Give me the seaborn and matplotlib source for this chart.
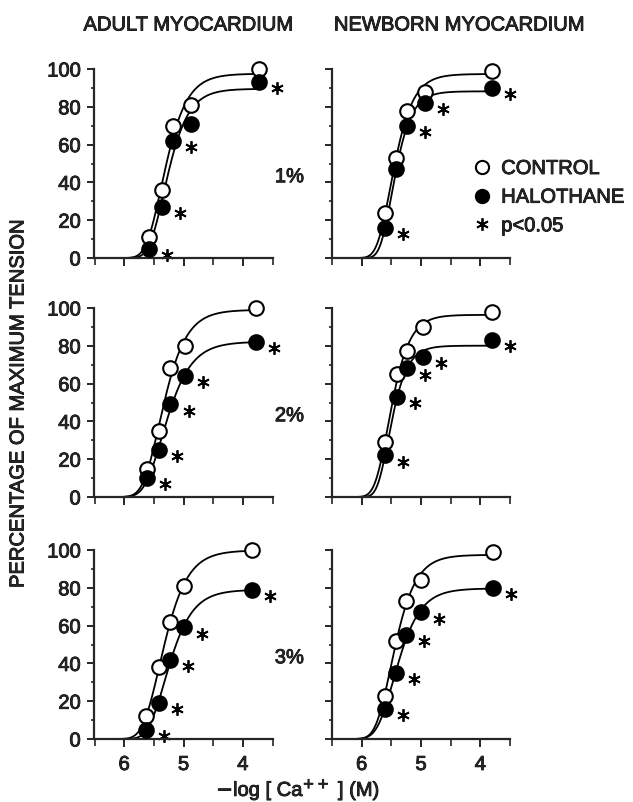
import numpy as np
import matplotlib
matplotlib.use("Agg")
import matplotlib.pyplot as plt
import matplotlib.transforms as mtransforms
import matplotlib.patheffects as pe
from matplotlib.lines import Line2D
from matplotlib.ticker import MultipleLocator
import pandas as pd
import seaborn as sns

# --- data: -log[Ca++] and % of maximum tension ---
adult_1_x = [5.58, 5.37, 5.17, 4.87, 3.73]
adult_1_control = [11, 36, 70, 81, 100]
adult_1_halothane = [5, 27, 62, 71, 93]
adult_1_sig = [1, 1, 1, 0, 1]

newborn_1_x = [5.60, 5.42, 5.23, 4.94, 3.81]
newborn_1_control = [24, 53, 78, 88, 99]
newborn_1_halothane = [16, 47, 70, 82, 90]
newborn_1_sig = [1, 0, 1, 1, 1]

adult_2_x = [5.61, 5.41, 5.22, 4.97, 3.78]
adult_2_control = [15, 35, 68, 80, 100]
adult_2_halothane = [10, 25, 49, 64, 82]
adult_2_sig = [1, 1, 1, 1, 1]

newborn_2_x = [5.60, 5.41, 5.23, 4.97, 3.81]
newborn_2_control = [29, 65, 77, 90, 98]
newborn_2_halothane = [22, 53, 68, 74, 83]
newborn_2_sig = [1, 1, 1, 1, 1]

adult_3_x = [5.63, 5.41, 5.23, 4.99, 3.85]
adult_3_control = [12, 38, 62, 81, 100]
adult_3_halothane = [5, 19, 42, 59, 79]
adult_3_sig = [1, 1, 1, 1, 1]

newborn_3_x = [5.61, 5.42, 5.25, 5.00, 3.79]
newborn_3_control = [23, 52, 73, 84, 99]
newborn_3_halothane = [16, 35, 55, 67, 80]
newborn_3_sig = [1, 1, 1, 1, 1]

doses = ["1%", "2%", "3%"]
col_titles = ["ADULT MYOCARDIUM", "NEWBORN MYOCARDIUM"]

panels = [
    [(adult_1_x, adult_1_control, adult_1_halothane, adult_1_sig),
     (newborn_1_x, newborn_1_control, newborn_1_halothane, newborn_1_sig)],
    [(adult_2_x, adult_2_control, adult_2_halothane, adult_2_sig),
     (newborn_2_x, newborn_2_control, newborn_2_halothane, newborn_2_sig)],
    [(adult_3_x, adult_3_control, adult_3_halothane, adult_3_sig),
     (newborn_3_x, newborn_3_control, newborn_3_halothane, newborn_3_sig)],
]


def sigmoid(xs, x50, n, s):
    # asymmetric (Richards type) dose-response shape, 0..1
    return (1.0 / (1.0 + 10 ** (n * (xs - x50)))) ** s


def fit_curve(x, y):
    # least squares fit by grid search, plateau solved exactly
    x = np.asarray(x, float)
    y = np.asarray(y, float)
    x50, n, s = np.meshgrid(np.arange(4.4, 6.0, 0.01), np.arange(0.3, 4.0, 0.05),
                            np.geomspace(0.5, 10, 30), indexing="ij")
    f = sigmoid(x, x50[..., None], n[..., None], s[..., None])
    top = (f * y).sum(-1) / (f * f).sum(-1)
    err = ((top[..., None] * f - y) ** 2).sum(-1)
    i = np.unravel_index(err.argmin(), err.shape)
    return top[i], x50[i], n[i], s[i]


def fitted_line(x, y, start=6.45):
    top, x50, n, s = fit_curve(x, y)
    xs = np.linspace(start, min(x), 250)
    return xs, top * sigmoid(xs, x50, n, s)


sns.set_style("ticks")
plt.rcParams["font.family"] = ["Liberation Sans", "DejaVu Sans"]
plt.rcParams["font.size"] = 14

W, H = 633, 802
fig = plt.figure(figsize=(W / 100, H / 100), dpi=100)

lefts = [94.5, 332]
width = 178
tops = [69, 308, 550]
height = 189

FS = 14.5
# the scanned lettering is a bit heavier than a plain regular face
heavy = [pe.withStroke(linewidth=0.6, foreground="black")]
star_offset = mtransforms.ScaledTranslation(13 / 72, -4.5 / 72, fig.dpi_scale_trans)

for r in range(3):
    for c in range(2):
        ax = fig.add_axes([lefts[c] / W, 1 - (tops[r] + height) / H, width / W, height / H])
        x, ctrl, halo, sig = panels[r][c]

        for yy in (ctrl, halo):
            cx, cy = fitted_line(x, yy)
            sns.lineplot(x=cx, y=cy, ax=ax, color="black", lw=1.3, sort=False,
                         estimator=None, clip_on=False, zorder=2)

        df = pd.DataFrame({"x": x, "control": ctrl, "halothane": halo, "sig": sig})
        sns.scatterplot(data=df, x="x", y="control", ax=ax, s=110, color="white",
                        edgecolor="black", linewidth=1.5, zorder=4, clip_on=False)
        sns.scatterplot(data=df, x="x", y="halothane", ax=ax, s=110, color="black",
                        edgecolor="black", linewidth=1.5, zorder=5, clip_on=False)
        sd = df[df["sig"] == 1]
        ax.plot(sd["x"], sd["halothane"], ls="none", marker=(6, 2, 0), ms=9, mew=1.3,
                color="black", transform=ax.transData + star_offset, clip_on=False)

        ax.set_xlim(6.5, 3.5)
        ax.set_ylim(0, 100)
        ax.xaxis.set_minor_locator(MultipleLocator(0.5))
        ax.yaxis.set_minor_locator(MultipleLocator(10))
        ax.set_xticks([6, 5, 4])
        ax.set_xticklabels(["6", "5", "4"])
        ax.set_yticks([0, 20, 40, 60, 80, 100])
        ax.set_yticklabels(["0", "20", "40", "60", "80", "100"])
        for sp in ("top", "right"):
            ax.spines[sp].set_visible(False)
        for sp in ("left", "bottom"):
            ax.spines[sp].set_linewidth(1.6)
        ax.tick_params(axis="both", which="major", direction="out", width=1.4,
                       labelsize=FS, pad=5)
        ax.tick_params(axis="x", which="major", length=5.5, pad=6)
        ax.tick_params(axis="x", which="minor", length=5, width=1.2)
        ax.tick_params(axis="y", which="major", length=5)
        ax.tick_params(axis="y", which="minor", length=2.5, width=1.2)
        if r < 2:
            ax.tick_params(axis="x", labelbottom=False)
        if c == 1:
            ax.tick_params(axis="y", labelleft=False)
        for lab in ax.get_xticklabels() + ax.get_yticklabels():
            lab.set_path_effects(heavy)
        ax.set_xlabel("")
        ax.set_ylabel("")
        if c == 0:
            ax.text(1.095, 0.43, doses[r], transform=ax.transAxes, ha="center",
                    va="center", fontsize=FS, path_effects=heavy)
        if r == 0 and c == 1:
            handles = [
                Line2D([], [], ls="none", marker="o", ms=9.5, mfc="white", mec="black", mew=1.5),
                Line2D([], [], ls="none", marker="o", ms=9.5, mfc="black", mec="black", mew=1.5),
                Line2D([], [], ls="none", marker=(6, 2, 0), ms=9, mew=1.3, color="black"),
            ]
            leg = ax.legend(handles, ["CONTROL", "HALOTHANE", "p<0.05"], frameon=False,
                            loc="upper left", bbox_to_anchor=(472 / W, 1 - 159 / H),
                            bbox_transform=fig.transFigure, fontsize=FS, handlelength=1.0,
                            handletextpad=0.45, labelspacing=0.48, borderpad=0,
                            borderaxespad=0)
            for t in leg.get_texts():
                t.set_path_effects(heavy)

fig.text(188 / W, 1 - 25 / H, col_titles[0], ha="center", va="center", fontsize=FS,
         path_effects=heavy)
fig.text(459 / W, 1 - 25 / H, col_titles[1], ha="center", va="center", fontsize=FS,
         path_effects=heavy)
fig.text(18 / W, 1 - 404 / H, "PERCENTAGE OF MAXIMUM TENSION", rotation=90,
         ha="center", va="center", fontsize=FS, path_effects=heavy)
fig.text(298 / W, 1 - 790 / H, r"$-$log [ Ca$^{++}$ ] (M)", ha="center", va="center",
         fontsize=FS, path_effects=heavy)

fig.savefig("out.png", dpi=100)
